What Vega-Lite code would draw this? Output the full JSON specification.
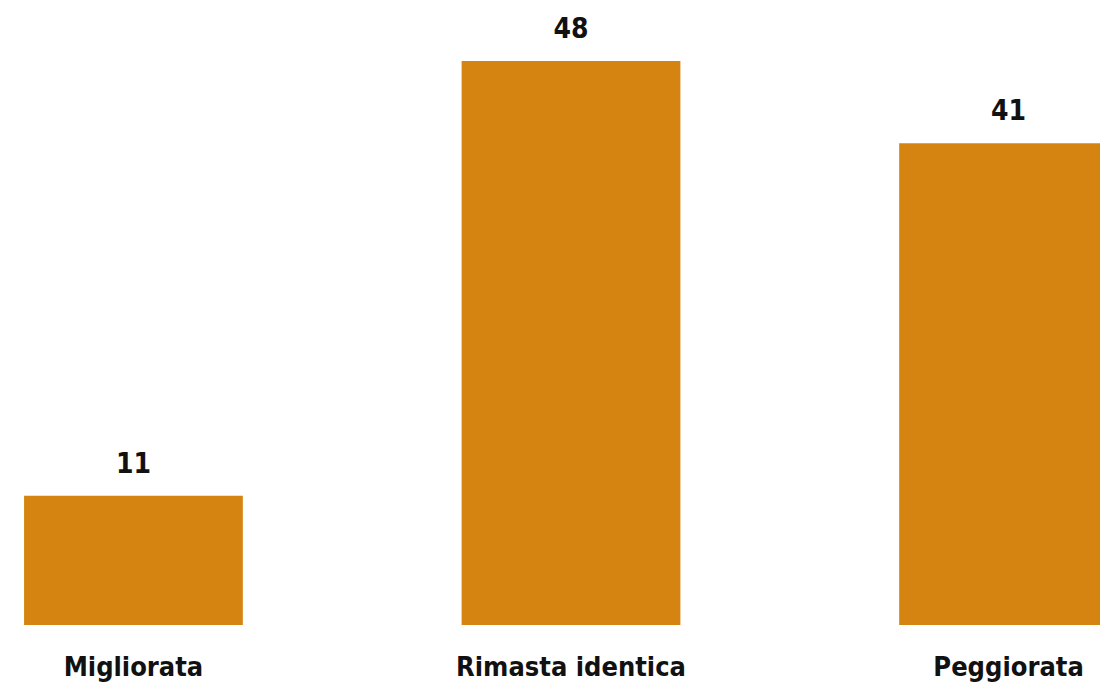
{
  "$schema": "https://vega.github.io/schema/vega-lite/v6.json",
  "autosize": "none",
  "padding": {"left": 0, "top": 0, "right": 0, "bottom": 58},
  "width": 1142,
  "height": 625,
  "background": "white",
  "data": {"values": [
    {"categoria": "Migliorata", "valore": 11},
    {"categoria": "Rimasta identica", "valore": 48},
    {"categoria": "Peggiorata", "valore": 41}
  ]},
  "encoding": {
    "x": {"field": "categoria", "type": "nominal", "sort": null,
      "scale": {"paddingInner": 0.5, "paddingOuter": 0.055},
      "axis": {"title": null, "labelAngle": 0, "ticks": false, "domain": false,
        "labelFont": "DejaVu Sans Condensed", "labelFontWeight": "bold", "labelFontSize": 27,
        "labelColor": "#111111", "labelBaseline": "alphabetic", "labelPadding": 50,
        "labelLimit": 500, "labelOverlap": false}},
    "y": {"field": "valore", "type": "quantitative",
      "scale": {"domain": [0, 53.2], "nice": false},
      "axis": null}
  },
  "layer": [
    {"mark": {"type": "bar", "color": "#D58412"}},
    {"mark": {"type": "text", "baseline": "alphabetic", "dy": -23,
      "font": "DejaVu Sans Condensed", "fontWeight": "bold", "fontSize": 28, "color": "#111111"},
     "encoding": {"text": {"field": "valore", "type": "quantitative"}}}
  ],
  "config": {"view": {"stroke": null}}
}
